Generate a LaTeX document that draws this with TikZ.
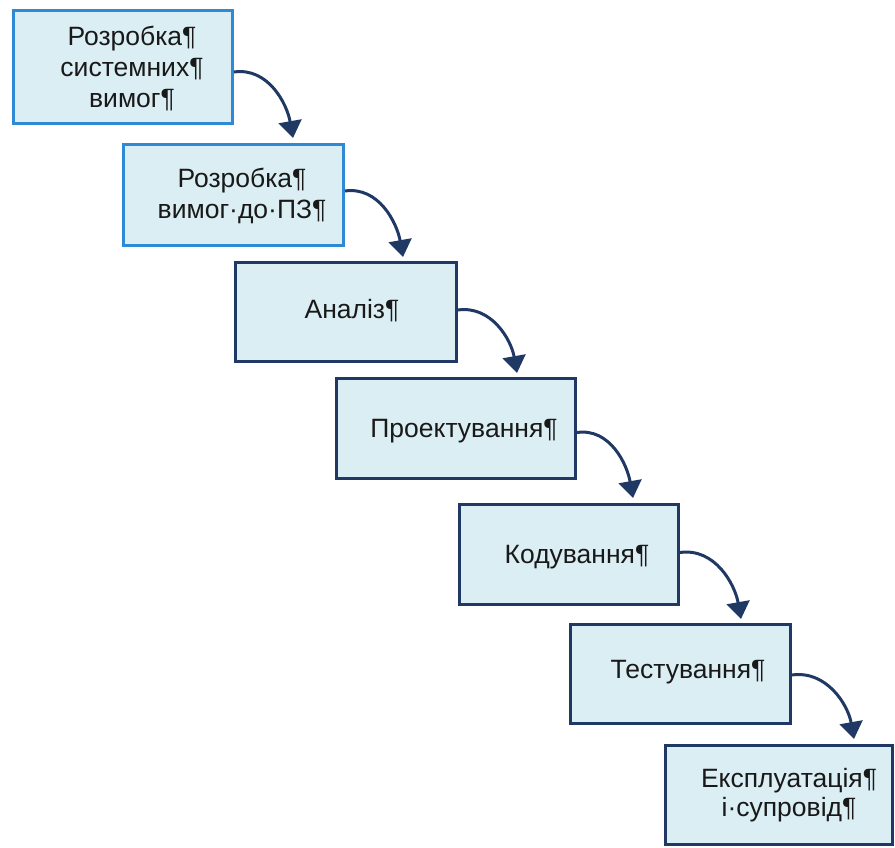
\documentclass[tikz,border=0pt]{standalone}
\usepackage{fontspec}
\setmainfont{Liberation Sans}
\usetikzlibrary{arrows.meta,calc}
\definecolor{boxfill}{HTML}{DBEEF4}
\definecolor{lightedge}{HTML}{2E8AD4}
\definecolor{navy}{HTML}{1F3864}
\tikzset{
  stage/.style={draw=navy, line width=3pt, fill=boxfill, rectangle, inner sep=0pt},
  stagelight/.style={stage, draw=lightedge},
  label/.style={align=center, inner sep=0pt, font=\fontsize{26.5}{31}\selectfont, text=black!90},
  flow/.style={draw=navy, line width=3pt, -{Triangle[width=23pt,length=17pt]}}
}
\begin{document}
\begin{tikzpicture}[x=1pt,y=-1pt]
\useasboundingbox (0,0) rectangle (895,848);
% stage boxes
\node[stagelight, minimum width=219pt, minimum height=113pt] (b1) at (123,67) {};
\node[stagelight, minimum width=220pt, minimum height=101pt] (b2) at (233.5,195) {};
\node[stage, minimum width=221pt, minimum height=99pt] (b3) at (346,312) {};
\node[stage, minimum width=239pt, minimum height=100pt] (b4) at (456,428.5) {};
\node[stage, minimum width=219pt, minimum height=100pt] (b5) at (569,554.5) {};
\node[stage, minimum width=220pt, minimum height=99pt] (b6) at (680.5,674) {};
\node[stage, minimum width=227pt, minimum height=99pt] (b7) at (779,795) {};
% stage captions
\node[label] (t1) at (132,68) {Розробка¶\\системних¶\\вимог¶};
\node[label] (t2) at (242,196) {Розробка¶\\вимог·до·ПЗ¶};
\node[label] (t3) at (352,311) {Аналіз¶};
\node[label] (t4) at (464,431) {Проектування¶};
\node[label] (t5) at (577,557) {Кодування¶};
\node[label] (t6) at (688,672) {Тестування¶};
\node[label, font=\fontsize{26.5}{29}\selectfont] (t7) at (789,795) {Експлуатація¶\\і·супровід¶};
% transitions
\draw[flow] ([yshift=-5pt]b1.east) to[out=8,in=100] ($(b1.east |- b2.north)+(59pt,5pt)$);
\draw[flow] ([yshift=4pt]b2.east) to[out=8,in=100] ($(b2.east |- b3.north)+(58pt,4pt)$);
\draw[flow] ([yshift=2pt]b3.east) to[out=8,in=100] ($(b3.east |- b4.north)+(59pt,4pt)$);
\draw[flow] ([yshift=-4pt]b4.east) to[out=8,in=100] ($(b4.east |- b5.north)+(56pt,5pt)$);
\draw[flow] ([yshift=2pt]b5.east) to[out=8,in=100] ($(b5.east |- b6.north)+(61pt,4pt)$);
\draw[flow] ([yshift=-1pt]b6.east) to[out=8,in=100] ($(b6.east |- b7.north)+(62pt,5pt)$);
\end{tikzpicture}
\end{document}
